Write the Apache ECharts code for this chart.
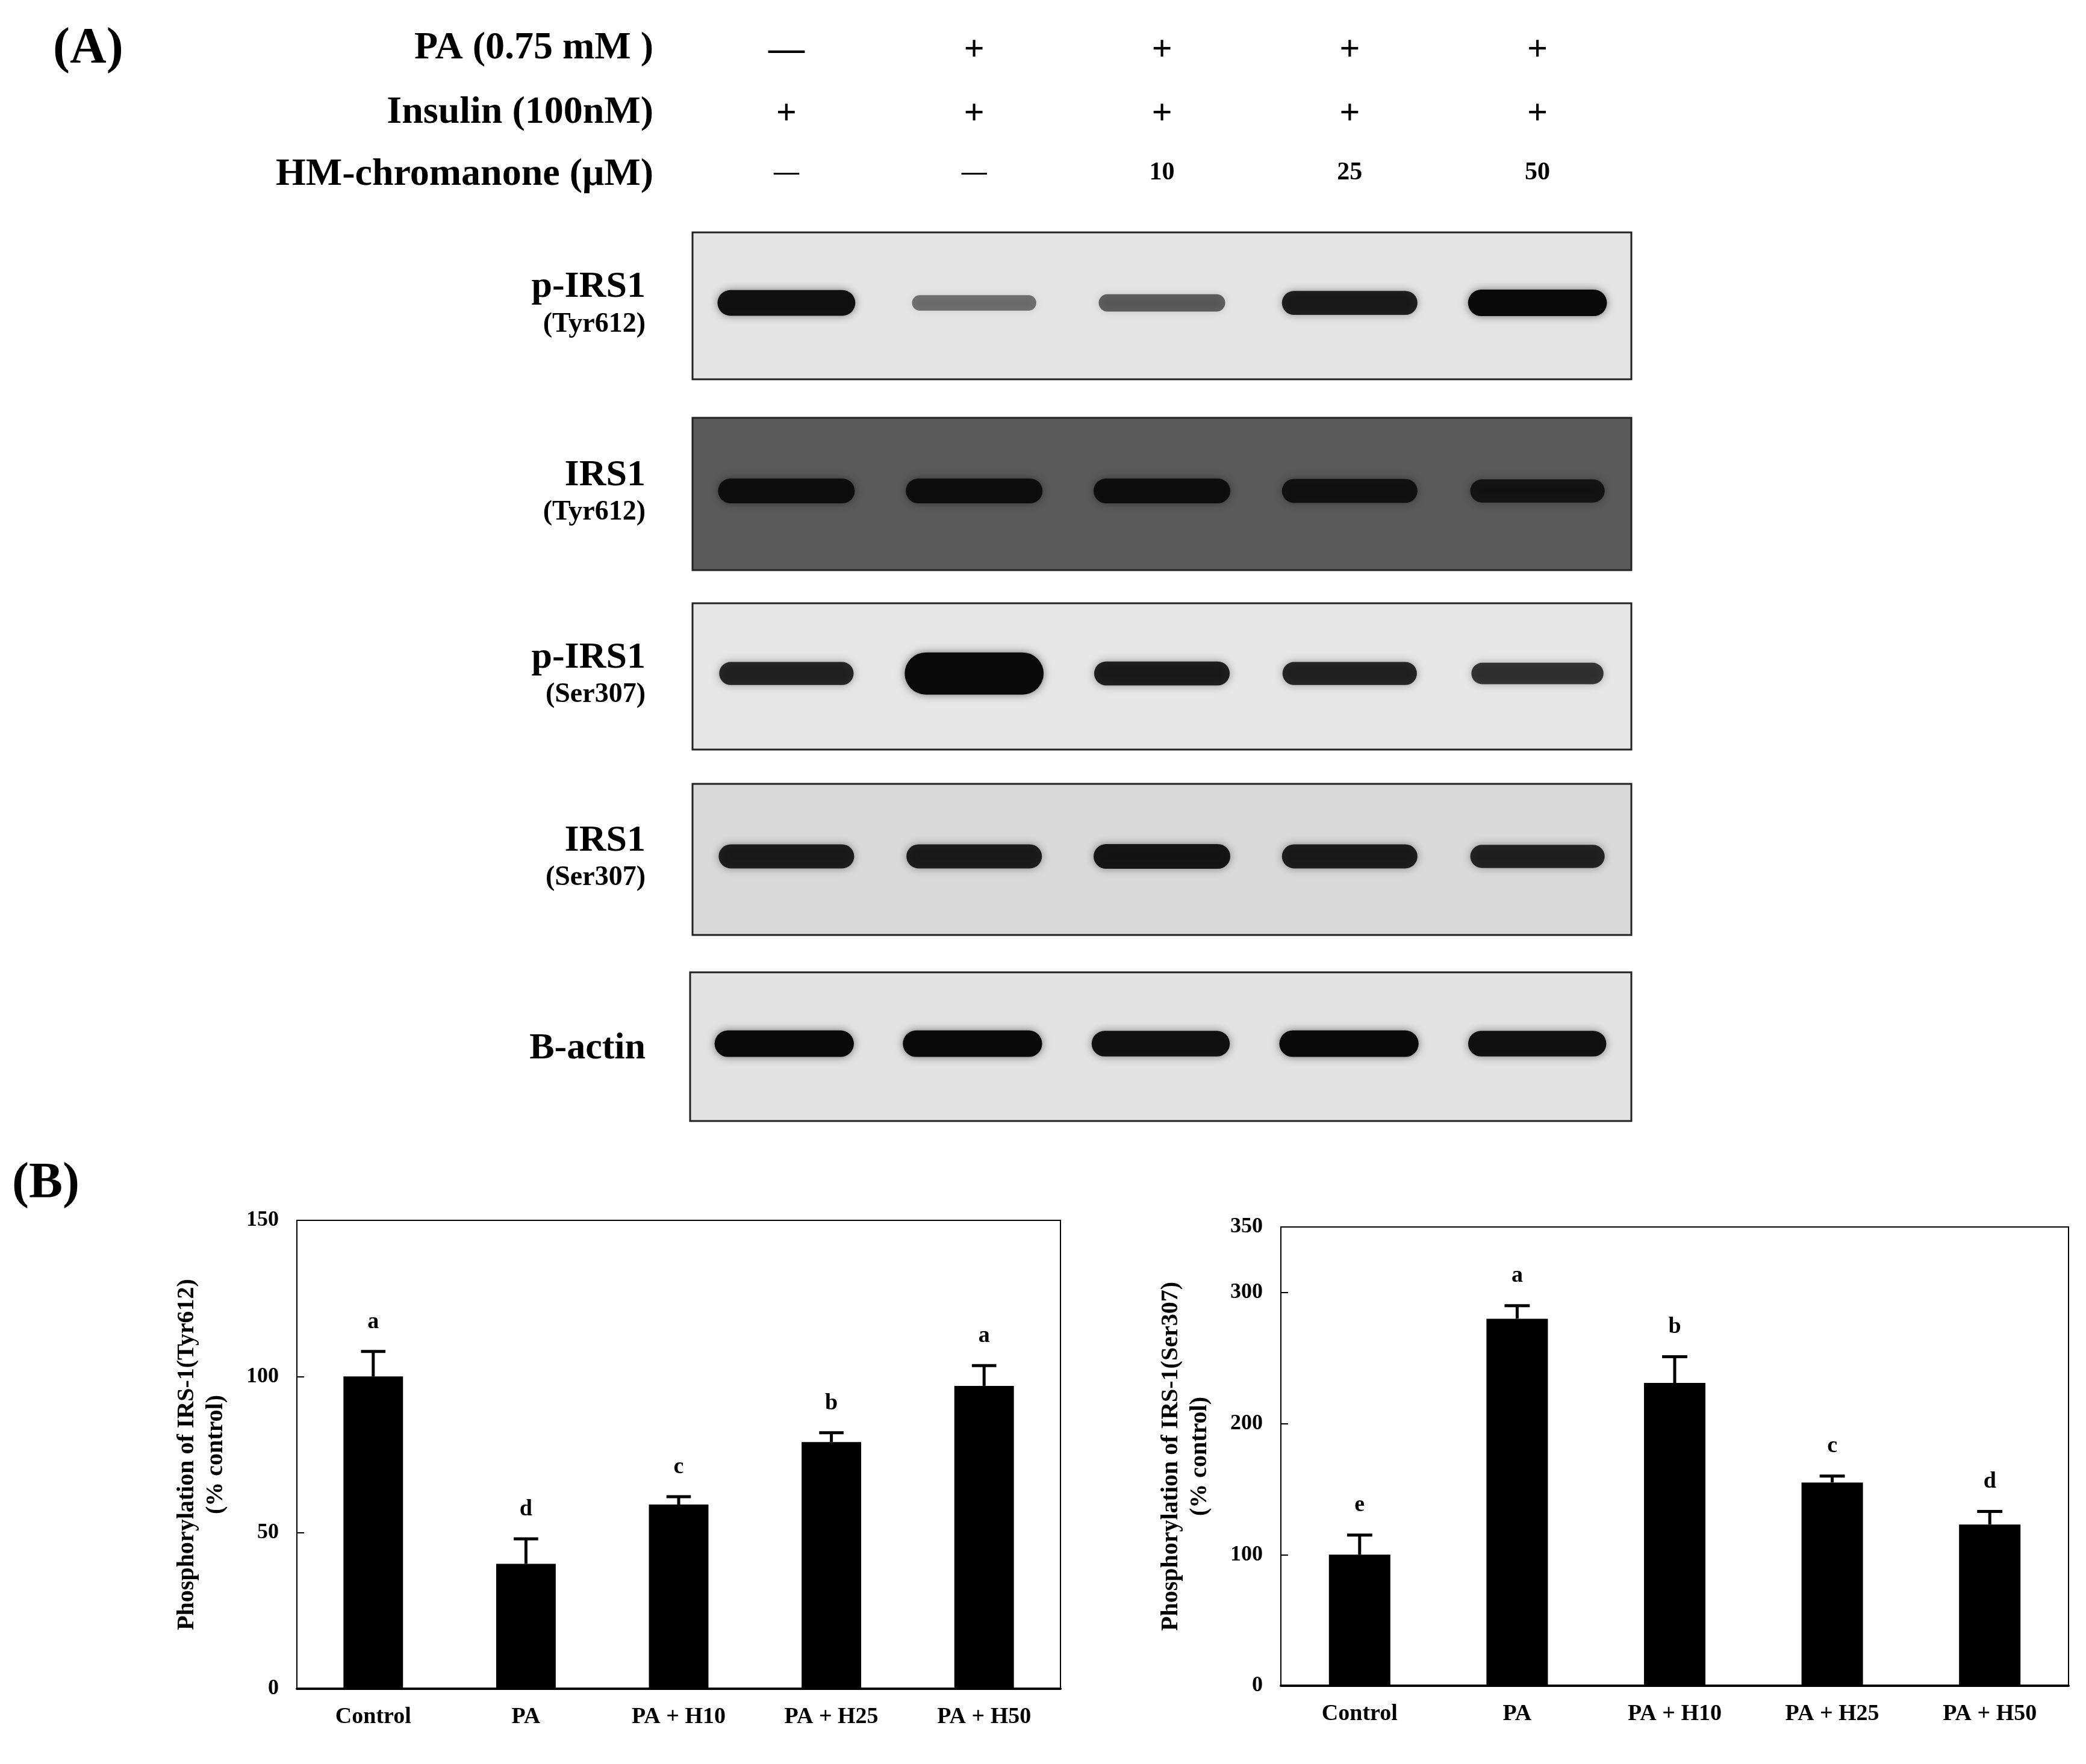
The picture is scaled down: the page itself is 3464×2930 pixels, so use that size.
<!DOCTYPE html>
<html><head><meta charset="utf-8">
<script src="https://cdn.jsdelivr.net/npm/echarts@6/dist/echarts.min.js"></script>
<style>html,body{margin:0;padding:0;background:#fff}#c{width:3464px;height:2930px}</style>
</head><body><div id="c"></div>
<script>
var lanes = ['L1','L2','L3','L4','L5'];
var paRow = ['—','+','+','+','+'];
var insulinRow = ['+','+','+','+','+'];
var hmRow = ['—','—','10','25','50'];
var blotNames = [['p-IRS1','(Tyr612)'],['IRS1','(Tyr612)'],['p-IRS1','(Ser307)'],['IRS1','(Ser307)'],['B-actin','']];
var bandTyrP = [0.95,0.35,0.45,0.85,1.0];
var bandTyrT = [0.9,0.9,0.9,0.85,0.8];
var bandSerP = [0.8,1.0,0.85,0.8,0.7];
var bandSerT = [0.85,0.85,0.9,0.85,0.8];
var bandActin = [1.0,1.0,0.95,1.0,0.95];
var categories = ['Control','PA','PA + H10','PA + H25','PA + H50'];
var tyrMean = [100,40,59,79,97];
var tyrErr = [8,8,2.5,3,6.5];
var tyrLetters = ['a','d','c','b','a'];
var serMean = [100,280,231,155,123];
var serErr = [15,10,20,5,10];
var serLetters = ['e','a','b','c','d'];

var F = 'Liberation Serif, Times New Roman, serif';
var chart = echarts.init(document.getElementById('c'));
var blots = [
  {top:386,h:244,bg:'#e4e4e4',data:bandTyrP,left:1150},
  {top:694,h:253,bg:'#5a5a5a',data:bandTyrT,left:1150},
  {top:1002,h:243,bg:'#e6e6e6',data:bandSerP,left:1150},
  {top:1302,h:251,bg:'#d9d9d9',data:bandSerT,left:1150},
  {top:1615,h:247,bg:'#e2e2e2',data:bandActin,left:1146}
];
var grids=[],xAxes=[],yAxes=[],series=[],graphic=[];
blots.forEach(function(b,i){
  grids.push({left:b.left,right:3464-2709,top:b.top,height:b.h,show:true,backgroundColor:b.bg,borderColor:'#222',borderWidth:3});
  xAxes.push({type:'category',gridIndex:i,data:lanes,show:false});
  yAxes.push({type:'value',gridIndex:i,min:0,max:1,show:false});
  series.push({type:'custom',xAxisIndex:i,yAxisIndex:i,data:b.data.map(function(v,k){return [k,v];}),
    renderItem:function(p,api){
      var v=api.value(1);var c=api.coord([api.value(0),0.52]);var w=api.size([1,0])[0];
      var bw=w*(0.62+0.12*v), bh=(i==2&&api.value(0)==1)?70:(16+28*v);
      return {type:'rect',shape:{x:c[0]-bw/2,y:c[1]-bh/2,width:bw,height:bh,r:bh/2},
        style:{fill:'rgba(10,10,10,'+(0.25+0.75*v)+')',shadowBlur:14,shadowColor:'rgba(0,0,0,'+(0.5*v)+')'}};
    }});
  var cy=b.top+b.h/2;
  graphic.push({type:'text',right:3464-1072,top:cy-(blotNames[i][1]?62:28),style:{text:blotNames[i][0],font:'bold 62px '+F,fill:'#000',textAlign:'right'}});
  if(blotNames[i][1]) graphic.push({type:'text',right:3464-1072,top:cy+8,style:{text:blotNames[i][1],font:'bold 46px '+F,fill:'#000',textAlign:'right'}});
});
[[paRow,272,60],[insulinRow,166,60],[hmRow,78,42]].forEach(function(r){
  xAxes.push({type:'category',gridIndex:0,data:r[0],position:'top',offset:r[1],axisLine:{show:false},axisTick:{show:false},
    axisLabel:{margin:0,fontFamily:F,fontWeight:'bold',fontSize:r[2],color:'#000'}});
});
graphic.push({type:'text',left:88,top:40,style:{text:'(A)',font:'bold 84px '+F,fill:'#000'}});
graphic.push({type:'text',left:20,top:1925,style:{text:'(B)',font:'bold 84px '+F,fill:'#000'}});
[['PA (0.75 mM )',48],['Insulin (100nM)',155],['HM-chromanone (μM)',258]].forEach(function(t){
  graphic.push({type:'text',right:3464-1085,top:t[1],style:{text:t[0],font:'bold 64px '+F,fill:'#000',textAlign:'right'}});
});

function barChart(gi,left,right,top,h,max,interval,mean,err,letters,name){
  grids.push({left:left,right:right,top:top,height:h,show:true,borderColor:'#000',borderWidth:2});
  var xi=xAxes.length, yi=yAxes.length;
  xAxes.push({type:'category',gridIndex:gi,data:categories,axisLine:{lineStyle:{color:'#000',width:4}},
    axisTick:{inside:true,length:14,lineStyle:{color:'#000',width:2}},
    axisLabel:{margin:28,fontFamily:F,fontWeight:'bold',fontSize:38,color:'#000'}});
  yAxes.push({type:'value',gridIndex:gi,min:0,max:max,interval:interval,splitLine:{show:false},
    axisLine:{show:true,lineStyle:{color:'#000',width:2}},axisTick:{show:true,inside:true,length:12,lineStyle:{color:'#000',width:2}},
    axisLabel:{margin:30,fontFamily:F,fontWeight:'bold',fontSize:36,color:'#000'},
    name:name,nameLocation:'middle',nameGap:110,nameTextStyle:{fontFamily:F,fontWeight:'bold',fontSize:40,color:'#000',lineHeight:48}});
  series.push({type:'bar',xAxisIndex:xi,yAxisIndex:yi,data:mean,barWidth:'39%',itemStyle:{color:'#000'}});
  series.push({type:'custom',xAxisIndex:xi,yAxisIndex:yi,z:5,
    data:mean.map(function(m,k){return [k,m,m+err[k],letters[k]];}),
    renderItem:function(p,api){
      var a=api.coord([api.value(0),api.value(1)]),b=api.coord([api.value(0),api.value(2)]);
      var hw=api.size([1,0])[0]*0.08;
      return {type:'group',children:[
        {type:'line',shape:{x1:a[0],y1:a[1],x2:b[0],y2:b[1]},style:{stroke:'#000',lineWidth:5}},
        {type:'line',shape:{x1:b[0]-hw,y1:b[1],x2:b[0]+hw,y2:b[1]},style:{stroke:'#000',lineWidth:5}},
        {type:'text',x:b[0],y:b[1]-30,style:{text:api.value(3),font:'bold 38px '+F,fill:'#000',textAlign:'center',textVerticalAlign:'bottom'}}
      ]};
    }});
}
barChart(5,493,3464-1761,2027,778,150,50,tyrMean,tyrErr,tyrLetters,'Phosphorylation of IRS-1(Tyr612)\n(% control)');
barChart(6,2127,29,2038,762,350,100,serMean,serErr,serLetters,'Phosphorylation of IRS-1(Ser307)\n(% control)');

chart.setOption({animation:false,backgroundColor:'#fff',grid:grids,xAxis:xAxes,yAxis:yAxes,series:series,graphic:graphic});
</script></body></html>
